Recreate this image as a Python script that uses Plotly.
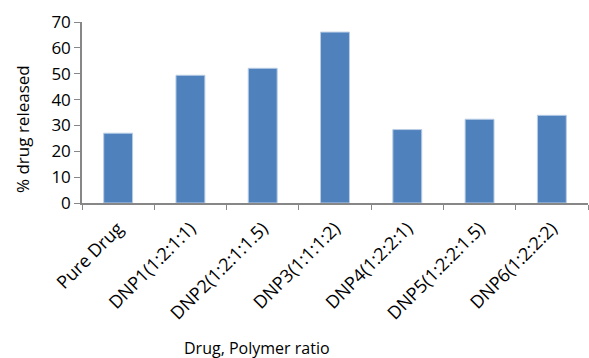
import plotly.graph_objects as go

categories = ["Pure Drug", "DNP1(1:2:1:1)", "DNP2(1:2:1:1.5)", "DNP3(1:1:1:2)",
              "DNP4(1:2:2:1)", "DNP5(1:2:2:1.5)", "DNP6(1:2:2:2)"]
released = [27.0, 49.4, 52.1, 66.1, 28.4, 32.4, 33.9]
y_ticks = [0, 10, 20, 30, 40, 50, 60, 70]

font = "Open Sans, Liberation Sans, sans-serif"

fig = go.Figure(go.Bar(
    x=categories, y=released, width=0.4,
    marker=dict(color="#4F81BD", line=dict(color="#B9CDE5", width=1)),
))

fig.update_layout(
    width=589, height=358,
    margin=dict(l=82, r=1, t=22, b=155),
    plot_bgcolor="white", paper_bgcolor="white",
    showlegend=False,
    font=dict(family=font, color="#000000"),
    xaxis=dict(
        type="category", tickson="boundaries", ticks="outside", ticklen=5,
        tickcolor="#878787", showline=True, linecolor="#878787", linewidth=1.5,
        tickangle=-45, tickfont=dict(size=18, family=font), showgrid=False,
        ticklabelstandoff=6,
    ),
    yaxis=dict(
        range=[0, 70], tickvals=y_ticks, ticks="outside", ticklen=6,
        tickcolor="#878787", showline=True, linecolor="#878787", linewidth=1.5,
        tickfont=dict(size=17, family=font), showgrid=False, zeroline=False,
    ),
    annotations=[
        dict(text="% drug released", xref="paper", yref="paper",
             x=(22 - 82) / 506, y=(358 - 155 - 129) / 181,
             textangle=-90, showarrow=False, xanchor="center", yanchor="middle",
             font=dict(size=17, family=font)),
        dict(text="Drug, Polymer ratio", xref="paper", yref="paper",
             x=(257 - 82) / 506, y=-(348 - 203) / 181,
             showarrow=False, xanchor="center", yanchor="middle",
             font=dict(size=16, family=font)),
    ],
)

fig.write_html("out.html")
